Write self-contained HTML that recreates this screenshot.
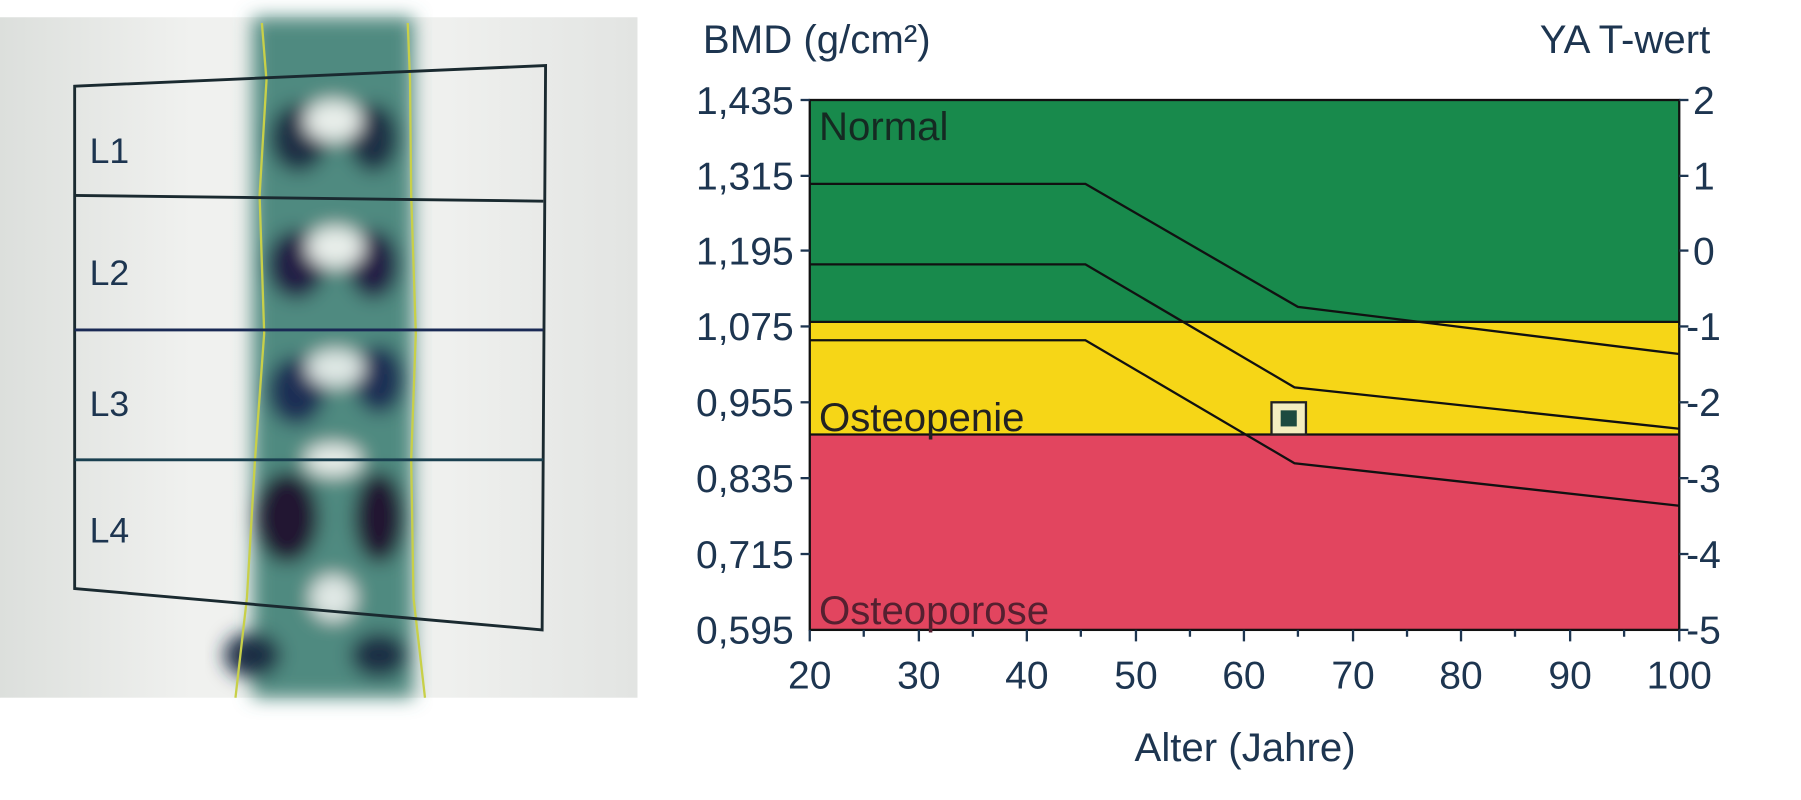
<!DOCTYPE html>
<html><head><meta charset="utf-8"><style>
body{margin:0;background:#fff;}
svg{display:block;}
svg text{font-family:"Liberation Sans",sans-serif;fill:#1d3550;}
</style></head><body>
<svg width="1801" height="800" viewBox="0 0 1568 696" preserveAspectRatio="none" xmlns="http://www.w3.org/2000/svg">
<defs>
<filter id="bl"><feGaussianBlur stdDeviation="8"/></filter>
<linearGradient id="bg" x1="0" x2="1"><stop offset="0" stop-color="#dcdfdc"/><stop offset="0.3" stop-color="#f0f1ef"/><stop offset="0.7" stop-color="#eff0ee"/><stop offset="1" stop-color="#e2e4e2"/></linearGradient>
</defs>
<rect x="0" y="15" width="555" height="592" fill="url(#bg)"/>
<g filter="url(#bl)">
<rect x="220" y="15" width="140" height="592" fill="#4f8a80"/>
<ellipse cx="260" cy="120" rx="25" ry="30" fill="#1d2f45"/><ellipse cx="325" cy="120" rx="22" ry="30" fill="#1d2f45"/>
<ellipse cx="290" cy="105" rx="25" ry="18" fill="#e8eeea"/>
<ellipse cx="258" cy="230" rx="25" ry="30" fill="#231c45"/><ellipse cx="325" cy="230" rx="22" ry="30" fill="#231c45"/>
<ellipse cx="292" cy="215" rx="25" ry="18" fill="#e8eeea"/>
<ellipse cx="258" cy="340" rx="25" ry="30" fill="#1d2f55"/><ellipse cx="330" cy="330" rx="22" ry="30" fill="#1d2f55"/>
<ellipse cx="292" cy="320" rx="25" ry="16" fill="#dfe8e5"/>
<ellipse cx="250" cy="450" rx="28" ry="40" fill="#231830"/><ellipse cx="330" cy="450" rx="22" ry="40" fill="#231830"/>
<ellipse cx="290" cy="400" rx="25" ry="14" fill="#e8eeea"/>
<ellipse cx="290" cy="520" rx="20" ry="20" fill="#e0e8e5"/>
<ellipse cx="220" cy="570" rx="25" ry="20" fill="#1d2f45"/><ellipse cx="330" cy="570" rx="25" ry="20" fill="#1d2f45"/>
</g>
<path d="M228,20 L232,70 L226,170 L230,290 L222,400 L215,520 L205,607 M355,20 L357,70 L358,170 L362,290 L358,400 L360,520 L370,607" fill="none" stroke="#c8d048" stroke-width="2"/>
<path d="M65,75 L475,57 L472,548 L65,512 Z" fill="none" stroke="#1a2a30" stroke-width="2.5"/>
<line x1="65" y1="170" x2="473" y2="175" stroke="#1a2a30" stroke-width="2.5"/>
<line x1="65" y1="287" x2="473" y2="287" stroke="#1a2a55" stroke-width="2.5"/>
<line x1="65" y1="400" x2="473" y2="400" stroke="#1a4050" stroke-width="2.5"/>
<text x="78" y="142" font-size="31">L1</text>
<text x="78" y="248" font-size="31">L2</text>
<text x="78" y="362" font-size="31">L3</text>
<text x="78" y="472" font-size="31">L4</text>

<rect x="705" y="87" width="757" height="193" fill="#188a4c"/>
<rect x="705" y="280" width="757" height="98" fill="#f6d617"/>
<rect x="705" y="378" width="757" height="170" fill="#e2455f"/>
<g fill="none" stroke="#111" stroke-width="2">
<line x1="705" y1="280" x2="1462" y2="280"/>
<line x1="705" y1="378" x2="1462" y2="378"/>
<polyline points="705,160 945,160 1130,267 1462,308"/>
<polyline points="705,230 945,230 1127,337 1462,373"/>
<polyline points="705,296 945,296 1127,403 1462,440"/>
<rect x="705" y="87" width="757" height="461"/>
</g>
<rect x="1107" y="350" width="30" height="28" fill="#f4eec0" stroke="#222" stroke-width="2"/>
<rect x="1115" y="357" width="14" height="14" fill="#1d4a40"/>
<text x="713" y="122" font-size="35" style="fill:#152a22">Normal</text>
<text x="713" y="375" font-size="35" style="fill:#222">Osteopenie</text>
<text x="713" y="543" font-size="35" style="fill:#552030">Osteoporose</text>
<g stroke="#1d3550" stroke-width="2">
<line x1="697" y1="87" x2="705" y2="87"/><line x1="697" y1="153" x2="705" y2="153"/><line x1="697" y1="218" x2="705" y2="218"/><line x1="697" y1="284" x2="705" y2="284"/><line x1="697" y1="350" x2="705" y2="350"/><line x1="697" y1="416" x2="705" y2="416"/><line x1="697" y1="482" x2="705" y2="482"/>
<line x1="1462" y1="87" x2="1470" y2="87"/><line x1="1462" y1="153" x2="1470" y2="153"/><line x1="1462" y1="218" x2="1470" y2="218"/><line x1="1462" y1="284" x2="1470" y2="284"/><line x1="1462" y1="350" x2="1470" y2="350"/><line x1="1462" y1="416" x2="1470" y2="416"/><line x1="1462" y1="482" x2="1470" y2="482"/><line x1="1462" y1="548" x2="1470" y2="548"/>
<path d="M705,548v10M752,548v6M800,548v10M847,548v6M894,548v10M941,548v6M989,548v10M1036,548v6M1083,548v10M1130,548v6M1178,548v10M1225,548v6M1272,548v10M1319,548v6M1367,548v10M1414,548v6M1462,548v10"/>
</g>
<g font-size="34" text-anchor="end">
<text x="691" y="99">1,435</text><text x="691" y="165">1,315</text><text x="691" y="230">1,195</text><text x="691" y="296">1,075</text><text x="691" y="362">0,955</text><text x="691" y="428">0,835</text><text x="691" y="494">0,715</text><text x="691" y="560">0,595</text>
</g>
<g font-size="34">
<text x="1474" y="99">2</text><text x="1474" y="165">1</text><text x="1474" y="230">0</text><text x="1468" y="296">-1</text><text x="1468" y="362">-2</text><text x="1468" y="428">-3</text><text x="1468" y="494">-4</text><text x="1468" y="560">-5</text>
</g>
<g font-size="34" text-anchor="middle">
<text x="705" y="599">20</text><text x="800" y="599">30</text><text x="894" y="599">40</text><text x="989" y="599">50</text><text x="1083" y="599">60</text><text x="1178" y="599">70</text><text x="1272" y="599">80</text><text x="1367" y="599">90</text><text x="1462" y="599">100</text>
<text x="1084" y="662" font-size="35">Alter (Jahre)</text>
</g>
<text x="612" y="46" font-size="35">BMD (g/cm²)</text>
<text x="1489" y="46" font-size="35" text-anchor="end">YA T-wert</text>
</svg>
</body></html>
